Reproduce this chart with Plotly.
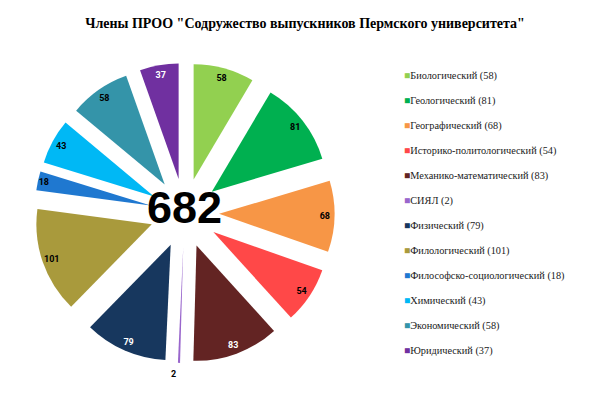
import plotly.graph_objects as go

categories = ["Биологический", "Геологический", "Географический", "Историко-политологический",
              "Механико-математический", "СИЯЛ", "Физический", "Филологический",
              "Философско-социологический", "Химический", "Экономический", "Юридический"]
values = [58, 81, 68, 54, 83, 2, 79, 101, 18, 43, 58, 37]
colors = ["#92D050", "#00B050", "#F79646", "#FF4848", "#632423", "#9966CC",
          "#17375E", "#A99A3C", "#1F78D0", "#00B8F5", "#3494A9", "#7030A0"]
text_colors = ["black", "black", "black", "black", "white", "black",
               "white", "black", "black", "black", "black", "white"]
title_text = 'Члены ПРОО "Содружество выпускников Пермского университета"'

W, H = 600, 398
cx, cy, R = 176.5, 205, 150
dom_x = [(cx - R) / W, (cx + R) / W]
dom_y = [1 - (cy + R) / H, 1 - (cy - R) / H]
R2 = 156
dom2_x = [(cx - R2) / W, (cx + R2) / W]
dom2_y = [1 - (cy + R2) / H, 1 - (cy - R2) / H]

serif = "Liberation Serif, Times New Roman, serif"
lab_font = "Roboto"

fig = go.Figure()
# main exploded pie
fig.add_trace(go.Pie(
    labels=categories, values=values, sort=False, direction="clockwise", rotation=0,
    pull=[0.3] * len(values),
    marker=dict(colors=colors, line=dict(color="white", width=0)),
    textinfo="none",
    domain=dict(x=dom_x, y=dom_y), showlegend=False, hoverinfo="label+value",
))
# transparent ring carrying the value labels near the outer edge ("inside end")
fig.add_trace(go.Pie(
    labels=categories, values=values, sort=False, direction="clockwise", rotation=0,
    hole=0.8,
    marker=dict(colors=["rgba(0,0,0,0)"] * len(values), line=dict(width=0)),
    textinfo="value",
    textposition=["outside" if v < 5 else "inside" for v in values],
    insidetextorientation="horizontal",
    insidetextfont=dict(color=text_colors, family=lab_font, size=9, weight="bold"),
    outsidetextfont=dict(color="black", family=lab_font, size=9, weight="bold"),
    domain=dict(x=dom2_x, y=dom2_y), showlegend=False, hoverinfo="skip",
))

for i, (c, v, col) in enumerate(zip(categories, values, colors)):
    fig.add_trace(go.Scatter(
        x=[None], y=[None], mode="markers",
        marker=dict(color="rgba(0,0,0,0)", size=1),
        name=f'<span style="color:{col}">■</span>{c} ({v})',
        legendgroup=f"g{i}", showlegend=True,
    ))

fig.add_annotation(
    x=(dom_x[0] + dom_x[1]) / 2, y=(dom_y[0] + dom_y[1]) / 2, xref="paper", yref="paper",
    text=str(sum(values)), showarrow=False, yshift=5,
    font=dict(family="Liberation Sans", size=45, color="black", weight="bold"),
    xanchor="center", yanchor="middle",
)

fig.update_layout(
    width=W, height=H, margin=dict(l=0, r=0, t=0, b=0, autoexpand=False),
    paper_bgcolor="white", plot_bgcolor="white",
    title=dict(text=f"<b>{title_text}</b>", x=0.495, xanchor="center", y=1 - 15 / H, yanchor="middle",
               font=dict(family=serif, size=14, color="black")),
    xaxis=dict(visible=False), yaxis=dict(visible=False),
    legend=dict(x=(398 - 42) / W, xanchor="left", y=1 - 52 / H, yanchor="top",
                tracegroupgap=6, font=dict(family=serif, size=10.3, color="#1a1a1a"),
                bgcolor="rgba(0,0,0,0)"),
)

fig.write_html("out.html")
